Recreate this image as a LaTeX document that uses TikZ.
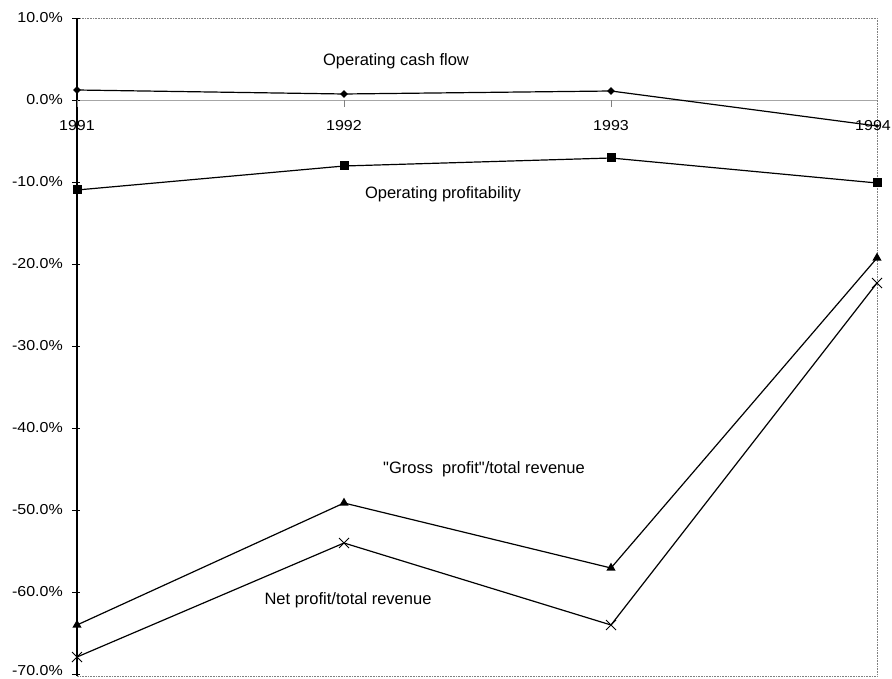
\documentclass[tikz,border=0pt]{standalone}
\usepackage{fontspec}
\setmainfont{Liberation Sans}[Ligatures=TeXOff]
\usetikzlibrary{shapes.geometric,shapes.misc}
\begin{document}
\begin{tikzpicture}[x=1pt,y=-1pt,
  axlab/.style={font=\fontsize{16}{18}\selectfont, inner sep=0pt, yscale=0.9},
  serlab/.style={font=\fontsize{16.5}{19}\selectfont, inner sep=0pt},
  series/.style={line width=1.2pt, black},
  dmark/.style={diamond, fill=black, inner sep=0pt, minimum size=8pt},
  smark/.style={rectangle, fill=black, inner sep=0pt, minimum size=9pt},
  tmark/.style={isosceles triangle, isosceles triangle apex angle=60, shape border rotate=90, fill=black, inner sep=0pt, minimum height=8pt},
  xmark/.style={cross out, draw=black, line width=1pt, inner sep=0pt, minimum size=9pt},
  frame/.style={gray, line width=0.6pt, densely dotted},
  tick/.style={black, line width=0.6pt}
]
\useasboundingbox (0,0) rectangle (892,679);
% frame
\draw[frame] (77,18) -- (877,18) -- (877,676) -- (77,676);
\draw[gray!70, line width=0.8pt] (77,100) -- (877,100);
\draw[black, line width=1.1pt] (77,18) -- (77,676);
% y ticks and labels
\foreach \v/\t in {10/10.0\%,0/0.0\%,-10/-10.0\%,-20/-20.0\%,-30/-30.0\%,-40/-40.0\%,-50/-50.0\%,-60/-60.0\%}{
  \draw[tick] (72,{100-8.2*\v}) -- (80,{100-8.2*\v});
  \node[axlab, anchor=east] (yl\v) at (63,{100-8.2*\v}) {\t};
}
\draw[tick] (72,674) -- (80,674);
\node[axlab, anchor=east] (yl-70) at (63,671) {-70.0\%};
% year ticks and labels
\foreach \x/\yr in {77/1991,344/1992,611/1993}{
  \draw[tick, gray] (\x,100) -- (\x,107);
  \node[axlab] (yr\yr) at (\x,126) {\yr};
}
\node[axlab, anchor=east] (yr1994) at (891,126) {1994};
% markers
\node[dmark] (c1) at (77,90) {};
\node[dmark] (c2) at (344,94) {};
\node[dmark] (c3) at (611,91) {};
\node[dmark, minimum size=4pt] (c4) at (877,126) {};
\node[smark] (o1) at (77,190) {};
\node[smark] (o2) at (344,166) {};
\node[smark] (o3) at (611,158) {};
\node[smark] (o4) at (877,183) {};
\node[tmark] (g1) at (77,625) {};
\node[tmark] (g2) at (344,503) {};
\node[tmark] (g3) at (611,568) {};
\node[tmark] (g4) at (877,258) {};
\node[xmark] (n1) at (77,657) {};
\node[xmark] (n2) at (344,543) {};
\node[xmark] (n3) at (611,625) {};
\node[xmark] (n4) at (877,283) {};
% series lines
\draw[series] (c1.center) -- (c2.center) -- (c3.center) -- (c4.center);
\draw[series] (o1.center) -- (o2.center) -- (o3.center) -- (o4.center);
\draw[series] (g1.center) -- (g2.center) -- (g3.center) -- (g4.center);
\draw[series] (n1.center) -- (n2.center) -- (n3.center) -- (n4.center);
% series labels
\node[serlab] (lc) at (396,61) {Operating cash flow};
\node[serlab] (lo) at (443,194) {Operating profitability};
\node[serlab] (lg) at (484,469) {"Gross\ \ profit"/total revenue};
\node[serlab] (ln) at (348,600) {Net profit/total revenue};
\end{tikzpicture}
\end{document}
